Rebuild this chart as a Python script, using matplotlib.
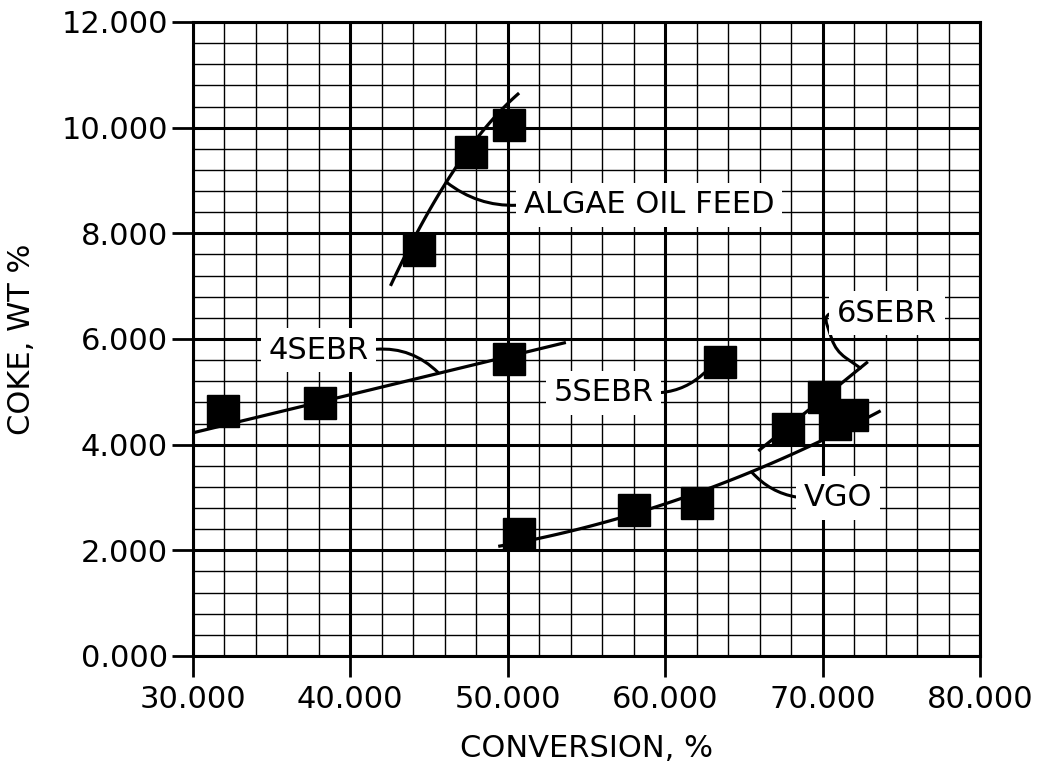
import numpy as np
import matplotlib
matplotlib.use('Agg')
import matplotlib.pyplot as plt
from matplotlib.ticker import MultipleLocator, FormatStrFormatter

# measured points (conversion %, coke wt %)
algae_x = [44.4, 47.7, 50.1]
algae_y = [7.69, 9.54, 10.05]
sebr4_x = [31.9, 38.1, 50.1]
sebr4_y = [4.64, 4.79, 5.62]
sebr5_x = [63.5]
sebr5_y = [5.56]
vgo_x = [50.7, 58.0, 62.0, 70.8, 71.9]
vgo_y = [2.31, 2.77, 2.89, 4.39, 4.56]
sebr6_x = [67.8, 70.1]
sebr6_y = [4.30, 4.90]

# trend lines
algae_fit_x = [42.6, 44.1, 46.2, 48.1, 50.65]
algae_fit_y = [7.0, 8.0, 8.97, 9.82, 10.64]
sebr4_fit_x = [30.0, 38.0, 45.6, 53.6]
sebr4_fit_y = [4.22, 4.80, 5.36, 5.92]
vgo_fit_x = [49.5, 51.7, 59.1, 65.5, 70.0, 73.6]
vgo_fit_y = [2.06, 2.23, 2.80, 3.48, 4.07, 4.64]
sebr6_fit_x = [66.0, 72.8]
sebr6_fit_y = [3.90, 5.55]

FS = 22

fig = plt.figure(figsize=(10.42, 7.71), dpi=100)
ax = fig.add_axes([0.185, 0.1492, 0.7555, 0.8223])


def smooth(xs, ys, deg):
    c = np.polyfit(xs, ys, deg)
    xx = np.linspace(min(xs), max(xs), 100)
    return xx, np.polyval(c, xx)


for fx, fy, deg in [(algae_fit_x, algae_fit_y, 2), (sebr4_fit_x, sebr4_fit_y, 1),
                    (vgo_fit_x, vgo_fit_y, 2), (sebr6_fit_x, sebr6_fit_y, 1)]:
    xx, yy = smooth(fx, fy, deg)
    ax.plot(xx, yy, color='k', lw=2.3, zorder=3)

for px, py in [(algae_x, algae_y), (sebr4_x, sebr4_y), (sebr5_x, sebr5_y),
               (vgo_x, vgo_y), (sebr6_x, sebr6_y)]:
    ax.plot(px, py, 's', color='k', ms=23, zorder=4)

box = dict(boxstyle='square,pad=0.25', fc='white', ec='none')


def label(text, xy, xytext, rel, conn):
    ax.annotate(text, xy=xy, xytext=xytext, ha='center', va='center',
                fontsize=FS, bbox=box, zorder=5,
                arrowprops=dict(arrowstyle='-', lw=2.2, color='k',
                                relpos=rel, shrinkA=0, shrinkB=0,
                                connectionstyle=conn))


label('ALGAE OIL FEED', (46.1, 8.97), (59.0, 8.54), (0, 0.5), 'arc3,rad=-0.2')
label('4SEBR', (45.6, 5.36), (38.0, 5.79), (1, 0.5), 'arc3,rad=-0.25')
label('5SEBR', (62.5, 5.36), (56.1, 4.98), (1, 0.5), 'arc3,rad=0.2')
label('6SEBR', (72.4, 5.45), (74.1, 6.49), (0, 0.5),
      'arc,angleA=180,angleB=145,armA=14,armB=30,rad=12')
label('VGO', (65.5, 3.48), (71.0, 2.99), (0, 0.5), 'arc3,rad=-0.2')

ax.set_xlim(30, 80)
ax.set_ylim(0, 12)
ax.xaxis.set_major_locator(MultipleLocator(10))
ax.xaxis.set_minor_locator(MultipleLocator(2))
ax.yaxis.set_major_locator(MultipleLocator(2))
ax.yaxis.set_minor_locator(MultipleLocator(0.4))
ax.xaxis.set_major_formatter(FormatStrFormatter('%.3f'))
ax.yaxis.set_major_formatter(FormatStrFormatter('%.3f'))
ax.grid(which='major', color='k', lw=2.2, zorder=1)
ax.grid(which='minor', color='k', lw=1.0, zorder=1)
ax.set_axisbelow(True)
ax.tick_params(which='major', direction='out', length=15, width=2, labelsize=FS, pad=3)
ax.tick_params(axis='x', which='major', pad=6)
ax.tick_params(which='minor', length=0)
for s in ax.spines.values():
    s.set_linewidth(2.2)

ax.set_xlabel('CONVERSION, %', fontsize=FS, labelpad=14)
ax.set_ylabel('COKE, WT %', fontsize=FS, labelpad=18)

fig.savefig('out.png', dpi=100)
